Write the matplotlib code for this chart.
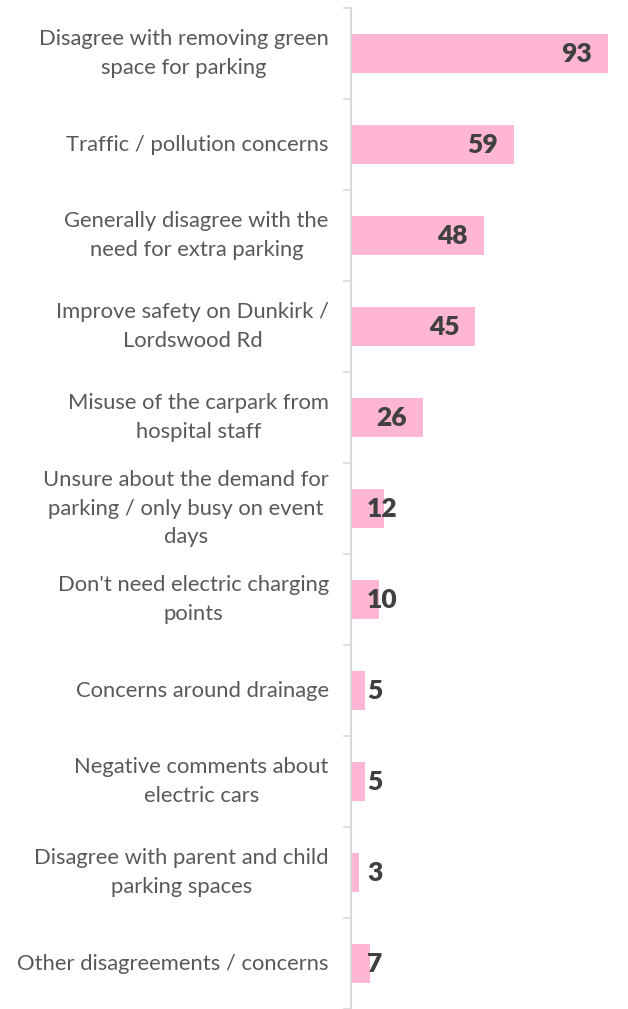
import numpy as np
import matplotlib.pyplot as plt

categories = [
    "Disagree with removing green\nspace for parking",
    "Traffic / pollution concerns",
    "Generally disagree with the\nneed for extra parking",
    "Improve safety on Dunkirk /\nLordswood Rd",
    "Misuse of the carpark from\nhospital staff",
    "Unsure about the demand for\nparking / only busy on event\ndays",
    "Don't need electric charging\npoints",
    "Concerns around drainage",
    "Negative comments about\nelectric cars",
    "Disagree with parent and child\nparking spaces",
    "Other disagreements / concerns",
]
counts = [93, 59, 48, 45, 26, 12, 10, 5, 5, 3, 7]

plt.rcParams['font.family'] = ['Lato', 'DejaVu Sans']

fig = plt.figure(figsize=(6.28, 10.09), dpi=100)
ax = fig.add_axes([0.559, 0.0, 0.44, 0.992])

n = len(categories)
ypos = np.arange(n)
ax.barh(ypos, counts, height=0.43, color='#FFB6D2', zorder=2)

ax.set_xlim(0, 100)
ax.set_ylim(n - 0.5, -0.5)

# value labels: inside end, pushed right when the bar is too short
pad = 16
for y, v in zip(ypos, counts):
    t = ax.text(0, y, str(v), ha='right', va='center', fontsize=19,
                fontweight='heavy', color='#404040', zorder=3)
    fig.canvas.draw()
    w = t.get_window_extent().width
    px = ax.transData.transform((v, 0))[0] - pad
    x0 = ax.transData.transform((0, 0))[0]
    px = max(px, x0 + pad + w)
    t.set_x(ax.transData.inverted().transform((px, 0))[0])

ax.set_yticks(ypos)
ax.set_yticklabels(categories, fontsize=15.8, color='#595959', linespacing=1.55)
for lab in ax.get_yticklabels():
    lab.set_multialignment('center')
    lab.set_verticalalignment('center')
ax.set_yticks(np.arange(-0.5, n + 0.5, 1), minor=True)
ax.tick_params(axis='y', which='major', length=0, pad=16)
ax.tick_params(axis='y', which='minor', length=6, width=1.2, color='#D9D9D9', direction='out')
ax.set_xticks([])

for s in ['top', 'right', 'bottom']:
    ax.spines[s].set_visible(False)
ax.spines['left'].set_color('#D9D9D9')
ax.spines['left'].set_linewidth(1.5)

plt.savefig("out.png", dpi=100)
plt.close()
